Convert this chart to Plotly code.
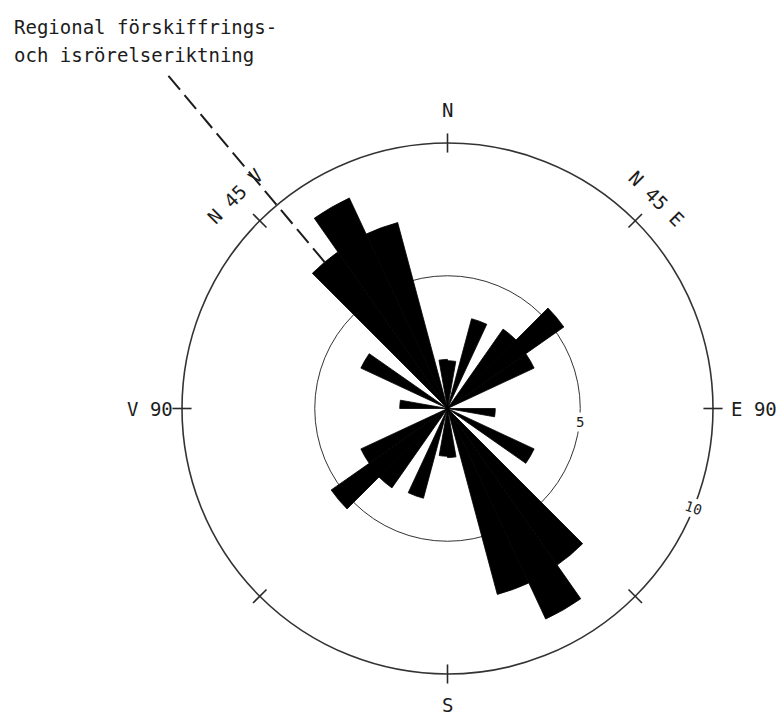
import math
import plotly.graph_objects as go

# Direction classes over half a circle (degrees clockwise from N).
# Each class is mirrored through 180 deg, so the rose is bidirectional.
directions = [5, 20, 40, 50, 60, 95, 120, 140, 150, 160, 175]
frequency = [1.8, 3.5, 3.65, 5.35, 3.6, 1.8, 3.6, 7.2, 8.75, 7.25, 1.85]

compass_ticks = [0, 45, 90, 135, 180, 225, 270, 315]
compass_labels = ["N", "N 45 E", "E 90", "S", "V 90", "N 45 V"]
compass_bearings = [0, 45, 90, 180, 270, 315]
ring_values = [5, 10]
ring_label_bearings = [96, 112]
regional_direction = 320
title_lines = ["Regional förskiffrings-", "och isrörelseriktning"]

theta = directions + [d + 180 for d in directions]
r = frequency + frequency

W, H = 779, 718
DOM_X = [182 / W, 713 / W]
DOM_Y = [44 / H, 575 / H]
R_MAX = 10
CX = (DOM_X[0] + DOM_X[1]) / 2 * W
CY = (1 - (DOM_Y[0] + DOM_Y[1]) / 2) * H
SCALE = (DOM_X[1] - DOM_X[0]) * W / 2 / R_MAX
FONT = "DejaVu Sans Mono"
INK = "#1c1c1c"


def to_paper(bearing, radius):
    a = math.radians(bearing)
    px = CX + radius * SCALE * math.sin(a)
    py = CY - radius * SCALE * math.cos(a)
    return px / W, 1 - py / H


fig = go.Figure()

fig.add_trace(go.Barpolar(
    theta=theta, r=r, width=[10] * len(theta),
    marker=dict(color="black", line=dict(color="black", width=0.8)),
    hoverinfo="skip", showlegend=False))

shapes = []

# compass tick marks crossing the outer circle
for t in compass_ticks:
    x0, y0 = to_paper(t, R_MAX - 0.36)
    x1, y1 = to_paper(t, R_MAX + 0.36)
    shapes.append(dict(type="line", xref="paper", yref="paper",
                       x0=x0, y0=y0, x1=x1, y1=y1,
                       line=dict(color="#2a2a2a", width=1.6)))

# dashed regional foliation / ice-movement direction, running out from the rose
reach = max(f for d, f in zip(theta, r) if abs(d - regional_direction) <= 5)
x0, y0 = to_paper(regional_direction, reach)
x1, y1 = to_paper(regional_direction, 16.4)
shapes.append(dict(type="line", xref="paper", yref="paper",
                   x0=x0, y0=y0, x1=x1, y1=y1,
                   line=dict(color=INK, width=2, dash="18px,7px")))

annotations = []
label_radius = [11.25, 11.15, 11.54, 11.15, 11.2, 11.3]
label_angle = [0, 45, 0, 0, 0, -45]
for txt, b, rad, ang in zip(compass_labels, compass_bearings, label_radius, label_angle):
    x, y = to_paper(b, rad)
    annotations.append(dict(x=x, y=y, xref="paper", yref="paper", text=txt,
                            showarrow=False, textangle=ang,
                            font=dict(family=FONT, size=19, color=INK),
                            xanchor="center", yanchor="middle"))

for val, b, size, ang in zip(ring_values, ring_label_bearings, [14, 14], [0, 18]):
    x, y = to_paper(b, val)
    annotations.append(dict(x=x, y=y, xref="paper", yref="paper", text=str(val),
                            showarrow=False, textangle=ang, bgcolor="white",
                            borderpad=1,
                            font=dict(family=FONT, size=size, color=INK),
                            xanchor="center", yanchor="middle"))

for i, line in enumerate(title_lines):
    annotations.append(dict(x=12 / W, y=1 - (27 + 28 * i) / H, xref="paper", yref="paper",
                            text=line, showarrow=False,
                            font=dict(family=FONT, size=19, color=INK),
                            xanchor="left", yanchor="middle", align="left"))

fig.update_layout(
    width=W, height=H,
    margin=dict(l=0, r=0, t=0, b=0),
    paper_bgcolor="white",
    showlegend=False,
    polar=dict(
        domain=dict(x=DOM_X, y=DOM_Y),
        bgcolor="white",
        bargap=0,
        angularaxis=dict(rotation=90, direction="clockwise", showgrid=False,
                         showline=True, linecolor="#333", linewidth=1.6,
                         showticklabels=False, ticks=""),
        radialaxis=dict(range=[0, R_MAX], tickvals=[5], showticklabels=False,
                        ticks="", showline=False, gridcolor="#333", gridwidth=1.4),
    ),
    shapes=shapes,
    annotations=annotations,
)

fig.write_html("out.html")
